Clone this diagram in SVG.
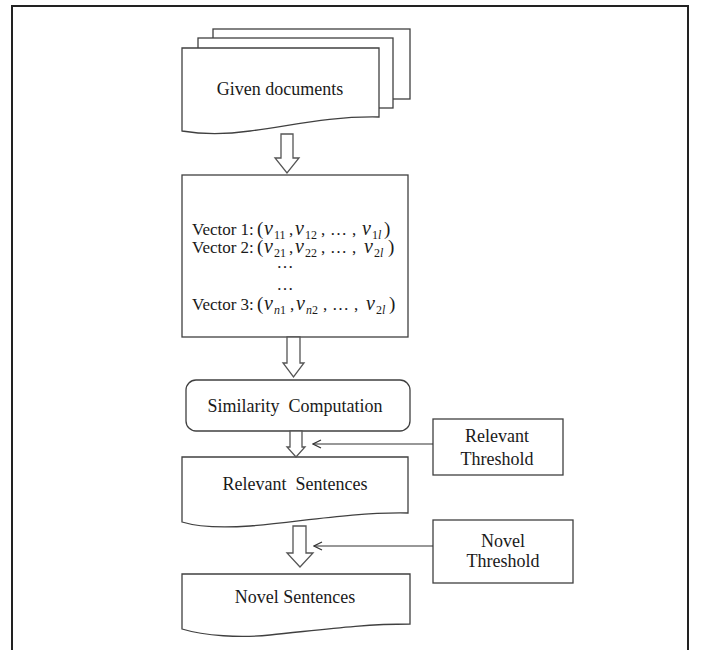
<svg xmlns="http://www.w3.org/2000/svg" width="701" height="650" viewBox="0 0 701 650">
  <defs>
    <style>
      .box { fill: #ffffff; stroke: #404040; stroke-width: 1.3; }
      .frame { fill: none; stroke: #222222; stroke-width: 2; }
      .blk { fill: #ffffff; stroke: #555555; stroke-width: 1.3; stroke-linejoin: miter; }
      .wire { fill: none; stroke: #333333; stroke-width: 1.2; }
      .lbl { font-family: "Liberation Serif", "Times New Roman", serif; font-size: 18px; fill: #1a1a1a; text-anchor: middle; white-space: pre; }
      .vec { font-family: "Liberation Serif", "Times New Roman", serif; font-size: 17px; fill: #1a1a1a; }
      .mv { font-style: italic; font-size: 20px; }
      .sub { font-size: 12px; }
      .it { font-style: italic; }
      .par { font-size: 19px; }
    </style>
    <marker id="chev" viewBox="0 0 10 10" refX="9" refY="5" markerWidth="10" markerHeight="10" markerUnits="userSpaceOnUse" orient="auto">
      <path d="M1,1 L9,5 L1,9" fill="none" stroke="#333333" stroke-width="1.2"/>
    </marker>
  </defs>

  <!-- outer frame, open at the bottom -->
  <path class="frame" d="M12,650 V6 H688 V650"/>

  <!-- stacked input documents -->
  <g id="given-documents">
    <rect class="box" x="213" y="29" width="197" height="70"/>
    <rect class="box" x="198" y="38" width="195" height="70"/>
    <path class="box" d="M182,48 H379 V117 C330,116 290,126 250,131 C222,135 200,134 182,131 Z"/>
    <text class="lbl" x="280" y="95">Given documents</text>
  </g>

  <!-- vector representation -->
  <g id="vectors">
    <rect class="box" x="182" y="175" width="226" height="162"/>
    <text class="vec" y="235"><tspan x="192">Vector 1:</tspan><tspan class="par" x="257">(</tspan><tspan class="mv" x="264">v</tspan><tspan class="sub" x="274" y="239">11</tspan><tspan x="289" y="235">,</tspan><tspan class="mv" x="295">v</tspan><tspan class="sub" x="305" y="239">12</tspan><tspan x="321" y="235">,</tspan><tspan x="330">…</tspan><tspan x="352">,</tspan><tspan class="mv" x="362">v</tspan><tspan class="sub" x="372" y="239">1<tspan class="it">l</tspan></tspan><tspan class="par" x="384" y="235">)</tspan></text>
    <text class="vec" y="253"><tspan x="192">Vector 2:</tspan><tspan class="par" x="257">(</tspan><tspan class="mv" x="264">v</tspan><tspan class="sub" x="274" y="257">21</tspan><tspan x="289" y="253">,</tspan><tspan class="mv" x="295">v</tspan><tspan class="sub" x="305" y="257">22</tspan><tspan x="321" y="253">,</tspan><tspan x="330">…</tspan><tspan x="352">,</tspan><tspan class="mv" x="364">v</tspan><tspan class="sub" x="374" y="257">2<tspan class="it">l</tspan></tspan><tspan class="par" x="388" y="253">)</tspan></text>
    <text class="vec" x="285" y="268" text-anchor="middle">…</text>
    <text class="vec" x="285" y="290" text-anchor="middle">…</text>
    <text class="vec" y="310"><tspan x="192">Vector 3:</tspan><tspan class="par" x="257">(</tspan><tspan class="mv" x="264">v</tspan><tspan class="sub" x="274" y="314"><tspan class="it">n</tspan>1</tspan><tspan x="290" y="310">,</tspan><tspan class="mv" x="296">v</tspan><tspan class="sub" x="306" y="314"><tspan class="it">n</tspan>2</tspan><tspan x="323" y="310">,</tspan><tspan x="332">…</tspan><tspan x="354">,</tspan><tspan class="mv" x="366">v</tspan><tspan class="sub" x="376" y="314">2<tspan class="it">l</tspan></tspan><tspan class="par" x="389" y="310">)</tspan></text>
  </g>

  <!-- similarity step -->
  <g id="similarity">
    <rect class="box" x="186" y="380" width="224" height="51" rx="10" ry="10"/>
    <text class="lbl" x="295" y="412">Similarity  Computation</text>
  </g>

  <g id="relevant-sentences">
    <path class="box" d="M182,457 H408 V513 C350,512 300,522 250,526 C220,528 195,526 182,522 Z"/>
    <text class="lbl" x="295" y="490">Relevant  Sentences</text>
  </g>

  <g id="relevant-threshold">
    <rect class="box" x="433" y="419" width="130" height="56"/>
    <text class="lbl" x="497" y="442">Relevant</text>
    <text class="lbl" x="497" y="465">Threshold</text>
  </g>

  <g id="novel-threshold">
    <rect class="box" x="433" y="520" width="140" height="63"/>
    <text class="lbl" x="503" y="547">Novel</text>
    <text class="lbl" x="503" y="567">Threshold</text>
  </g>

  <g id="novel-sentences">
    <path class="box" d="M182,574 H410 V624 C360,624 320,630 270,635 C240,638 205,636 182,629 Z"/>
    <text class="lbl" x="295" y="603">Novel Sentences</text>
  </g>

  <!-- connectors -->
  <g id="connectors">
    <path class="blk" d="M281,134 H293 V158 H299 L287,173 L275,158 H281 Z"/>
    <path class="blk" d="M287,337 H300 V363 H304 L293.5,377 L283,363 H287 Z"/>
    <path class="blk" d="M290,431 H302 V447 H305 L296,457 L287,447 H290 Z"/>
    <path class="blk" d="M293,526 H306 V553 H313 L300,567 L287,553 H293 Z"/>
    <line class="wire" x1="433" y1="444" x2="313" y2="444" marker-end="url(#chev)"/>
    <line class="wire" x1="433" y1="546" x2="314" y2="546" marker-end="url(#chev)"/>
  </g>
</svg>
